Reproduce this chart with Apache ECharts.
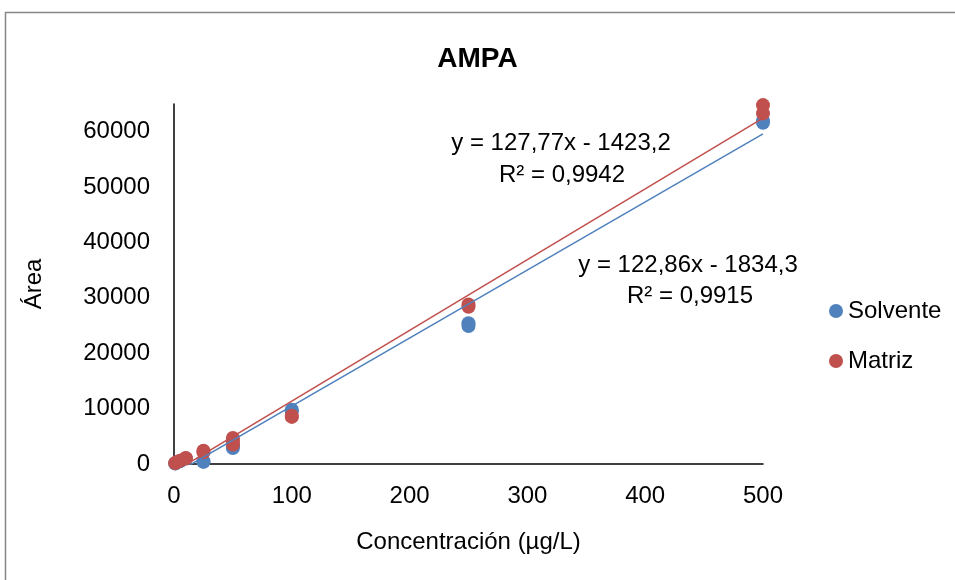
<!DOCTYPE html>
<html>
<head>
<meta charset="utf-8">
<script src="https://cdn.jsdelivr.net/npm/echarts@6/dist/echarts.min.js"></script>
<style>html,body{margin:0;padding:0;background:#fff}#c{width:955px;height:580px}</style>
</head>
<body>
<div id="c"></div>
<script>
// Data
const solventeX = [1, 2, 5, 10, 25, 25, 50, 50, 50, 100, 100, 250, 250, 500, 500];
const solventeY = [100, 250, 500, 1000, 400, 450, 2900, 3200, 3500, 9500, 9800, 24900, 25400, 61600, 62000];
const matrizX = [1, 2, 5, 10, 10, 25, 25, 50, 50, 50, 100, 100, 250, 250, 500, 500];
const matrizY = [150, 300, 600, 1000, 1100, 2100, 2400, 3500, 4100, 4700, 8500, 8700, 28400, 28800, 63300, 64800];
// Trendline coefficients (slope, intercept) from the chart's equations
const solventeFit = [122.86, -1834.3];
const matrizFit = [127.77, -1423.2];
const fitRange = [0, 500];
const xTicks = [0, 100, 200, 300, 400, 500];
const yTicks = [0, 10000, 20000, 30000, 40000, 50000, 60000];
const eqSolvente = ['y = 122,86x - 1834,3', 'R² = 0,9915'];
const eqMatriz = ['y = 127,77x - 1423,2', 'R² = 0,9942'];

const BLUE = '#4F81BD', RED = '#C0504D';
const FONT = '"Liberation Sans", Arial, sans-serif';

function pairs(xs, ys) { return xs.map((x, i) => [x, ys[i]]); }
function fitLine(c) { return fitRange.map(x => [x, c[0] * x + c[1]]); }

const chart = echarts.init(document.getElementById('c'));
chart.setOption({
  animation: false,
  textStyle: { fontFamily: FONT },
  title: {
    text: 'AMPA', left: 'center', top: 40,
    textStyle: { fontFamily: FONT, fontSize: 28, fontWeight: 'bold', color: '#000' }
  },
  grid: { left: 174, right: 192, top: 104, bottom: 116 },
  legend: {
    orient: 'vertical', left: 824, top: 294, itemGap: 26,
    itemWidth: 14, itemHeight: 14, icon: 'circle',
    data: ['Solvente', 'Matriz'],
    textStyle: { fontFamily: FONT, fontSize: 24, color: '#000', padding: [0, 0, 0, 0] }
  },
  xAxis: {
    type: 'value', min: 0, max: 500, interval: 100,
    name: 'Concentración (µg/L)', nameLocation: 'middle', nameGap: 66,
    nameTextStyle: { fontFamily: FONT, fontSize: 24, color: '#000' },
    axisLine: { lineStyle: { color: '#000', width: 1.5 } },
    axisTick: { show: false },
    splitLine: { show: false },
    axisLabel: { fontSize: 24, color: '#000', margin: 20,
      formatter: v => xTicks.includes(v) ? String(v) : '' }
  },
  yAxis: {
    type: 'value', min: 0, max: 65000, interval: 10000,
    name: 'Área', nameLocation: 'middle', nameGap: 128,
    nameTextStyle: { fontFamily: FONT, fontSize: 24, color: '#000' },
    axisLine: { show: true, lineStyle: { color: '#000', width: 1.5 } },
    axisTick: { show: false },
    splitLine: { show: false },
    axisLabel: { fontSize: 24, color: '#000', margin: 24, showMaxLabel: false,
      formatter: v => yTicks.includes(v) ? String(v) : '' }
  },
  series: [
    { name: 'Solvente', type: 'scatter', symbolSize: 14, itemStyle: { color: BLUE, opacity: 1 },
      data: pairs(solventeX, solventeY), z: 3 },
    { name: 'Matriz', type: 'scatter', symbolSize: 14, itemStyle: { color: RED, opacity: 1 },
      data: pairs(matrizX, matrizY), z: 4 },
    { name: 'fitS', type: 'line', data: fitLine(solventeFit), showSymbol: false, symbol: 'none',
      lineStyle: { color: BLUE, width: 1.5 }, z: 5, silent: true, clip: true },
    { name: 'fitM', type: 'line', data: fitLine(matrizFit), showSymbol: false, symbol: 'none',
      lineStyle: { color: RED, width: 1.5 }, z: 5, silent: true, clip: true }
  ],
  graphic: [
    { type: 'rect', shape: { x: 5.5, y: 12.5, width: 1000, height: 1000 },
      style: { fill: 'none', stroke: '#868686', lineWidth: 1.5 }, silent: true },
    { type: 'text', x: 561, y: 143, style: { text: eqMatriz[0], font: '24px ' + FONT, fill: '#000', align: 'center', verticalAlign: 'middle' } },
    { type: 'text', x: 562, y: 175, style: { text: eqMatriz[1], font: '24px ' + FONT, fill: '#000', align: 'center', verticalAlign: 'middle' } },
    { type: 'text', x: 688, y: 265, style: { text: eqSolvente[0], font: '24px ' + FONT, fill: '#000', align: 'center', verticalAlign: 'middle' } },
    { type: 'text', x: 690, y: 296, style: { text: eqSolvente[1], font: '24px ' + FONT, fill: '#000', align: 'center', verticalAlign: 'middle' } }
  ]
});
</script>
</body>
</html>
